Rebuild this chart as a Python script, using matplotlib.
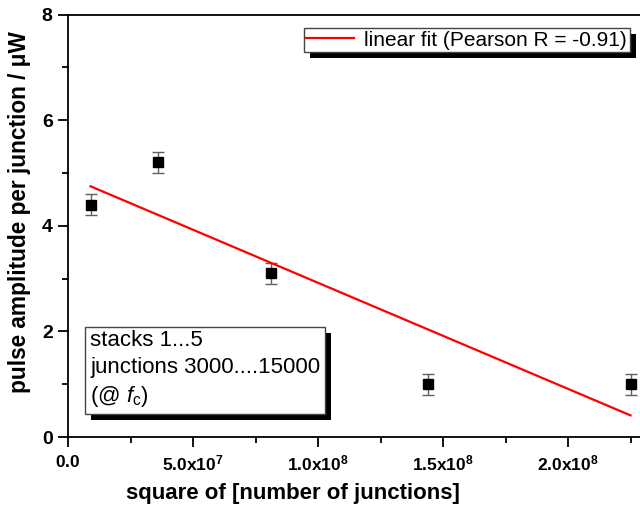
import matplotlib
matplotlib.use("Agg")
import matplotlib.pyplot as plt
from matplotlib.patches import Rectangle
from matplotlib.ticker import MultipleLocator, FuncFormatter
import numpy as np

plt.rcParams['font.family'] = ['Liberation Sans', 'DejaVu Sans']
plt.rcParams['mathtext.fontset'] = 'custom'
plt.rcParams['mathtext.rm'] = 'Liberation Sans'
plt.rcParams['mathtext.it'] = 'Liberation Sans:italic'
plt.rcParams['mathtext.bf'] = 'Liberation Sans:bold'

# data: squared junction count vs pulse amplitude per junction
junctions = np.array([3000, 6000, 9000, 12000, 15000])
amplitude = np.array([4.4, 5.2, 3.1, 1.0, 1.0])
amp_err = np.array([0.2, 0.2, 0.2, 0.2, 0.2])
x_sq = junctions.astype(float) ** 2

# linear fit
slope, icpt = np.polyfit(x_sq, amplitude, 1)
pearson_r = np.corrcoef(x_sq, amplitude)[0, 1]
x_fit = np.array([x_sq.min(), x_sq.max()])
y_fit = slope * x_fit + icpt

fig = plt.figure(figsize=(6.4, 5.08), dpi=100)
ax = fig.add_axes([68 / 640, 1 - 437 / 508, 1 - 68 / 640, (437 - 14.5) / 508])

ax.errorbar(x_sq, amplitude, yerr=amp_err, fmt='none', ecolor='#606060',
            elinewidth=1, capsize=4, capthick=1, zorder=2)
ax.plot(x_sq, amplitude, 's', color='black', markersize=7, zorder=3)
ax.plot(x_fit, y_fit, color='red', linewidth=1.6, zorder=4,
        label='linear fit (Pearson R = %.2f)' % pearson_r)

ax.set_xlim(0, (640 - 68) / 2.5 * 1e6)
ax.set_ylim(0, 8)

ax.spines['right'].set_visible(False)
for s in ['left', 'bottom', 'top']:
    ax.spines[s].set_linewidth(1.3)

ax.xaxis.set_major_locator(MultipleLocator(5e7))
ax.xaxis.set_minor_locator(MultipleLocator(2.5e7))
ax.yaxis.set_major_locator(MultipleLocator(2))
ax.yaxis.set_minor_locator(MultipleLocator(1))


def sci_fmt(v, pos):
    if v == 0:
        return r'$\mathbf{0.0}$'
    e = int(np.floor(np.log10(abs(v))))
    m = v / 10 ** e
    return r'$\mathbf{%.1fx10^{%d}}$' % (m, e)


ax.xaxis.set_major_formatter(FuncFormatter(sci_fmt))
ax.tick_params(which='major', direction='out', length=7, width=1.3,
               top=False, right=False)
ax.tick_params(which='minor', direction='out', length=4, width=1.3,
               top=False, right=False)
ax.tick_params(axis='x', labelsize=12.5, pad=5)
ax.tick_params(axis='y', labelsize=14, pad=4)
for lab in ax.get_yticklabels():
    lab.set_fontweight('bold')

ax.set_xlabel('square of [number of junctions]', fontsize=16, fontweight='bold')
ax.set_ylabel('pulse amplitude per junction / μW', fontsize=16.3, fontweight='bold')
ax.xaxis.set_label_coords(0.393, -0.11)
ax.yaxis.set_label_coords(-0.064, 0.532)

# legend
leg = ax.legend(loc='upper right', bbox_to_anchor=(0.982, 0.968), fontsize=15,
                frameon=True, fancybox=False, framealpha=1, edgecolor='#444444',
                handlelength=2.3, borderpad=0.12, handletextpad=0.5,
                borderaxespad=0)
leg.get_frame().set_linewidth(1.0)
leg.set_zorder(10)

# text box
note = 'stacks 1...5\njunctions 3000....15000\n(@ $f_\\mathrm{c}$)'
box = ax.text(0.039, 0.066, note, transform=ax.transAxes, fontsize=16, color='black',
              linespacing=1.36, va='bottom', ha='left', zorder=9,
              bbox=dict(boxstyle='square,pad=0.22', facecolor='white',
                        edgecolor='#444444', linewidth=1.0))

# hard black shadows under the legend and the text box
fig.canvas.draw()
for bb in [leg.get_window_extent(), box.get_bbox_patch().get_window_extent()]:
    fig.patches.append(Rectangle((bb.x0 + 6, bb.y0 - 6), bb.width, bb.height,
                                 facecolor='black', edgecolor='none',
                                 transform=None, zorder=1))
leg.remove()
fig.legends.append(leg)
leg.set_figure(fig)
box.remove()
fig.texts.append(box)
box.set_figure(fig)

fig.savefig('out.png', dpi=100)
